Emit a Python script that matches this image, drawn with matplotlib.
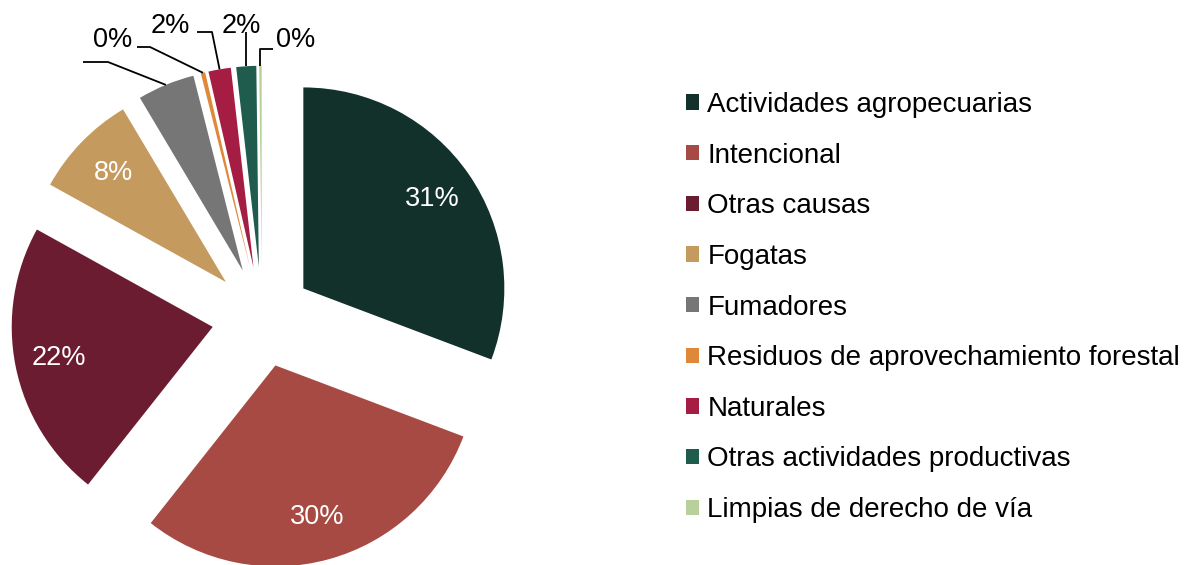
import matplotlib
matplotlib.use("Agg")
import matplotlib.pyplot as plt
import numpy as np

plt.rcParams["font.family"] = ["Liberation Sans", "DejaVu Sans"]

# data (percent of fires by cause)
causes = [
    "Actividades agropecuarias",
    "Intencional",
    "Otras causas",
    "Fogatas",
    "Fumadores",
    "Residuos de aprovechamiento forestal",
    "Naturales",
    "Otras actividades productivas",
    "Limpias de derecho de vía",
]
shares = [30.75, 29.9, 22.4, 8.4, 4.6, 0.35, 1.8, 1.6, 0.2]
colors = ["#12312b", "#a84a44", "#6b1c31", "#c49a5f", "#767676",
          "#e0883a", "#a51d42", "#1f5c4d", "#b9d09b"]

W, H = 1188, 565
R = 201
fig = plt.figure(figsize=(W / 100, H / 100), dpi=100)
ax = fig.add_axes([0, 0, 1, 1])

FS = 19.5


def pct(p):
    return f"{p:.0f}%" if p > 5 else ""


# matplotlib's explode offset is in data units, so scale by the radius
wedges, _, autotexts = ax.pie(
    shares, colors=colors, startangle=90, counterclock=False,
    explode=[0.25 * R] * len(shares), radius=R, center=(262, -317),
    autopct=pct, pctdistance=0.78, frame=True,
    wedgeprops=dict(linewidth=0),
    textprops=dict(color="white", fontsize=FS),
)
ax.set_xlim(0, W)
ax.set_ylim(-H, 0)
ax.set_aspect("equal")
ax.axis("off")


def anchor(w):
    mid = np.deg2rad((w.theta1 + w.theta2) / 2)
    cx, cy = w.center
    return cx + w.r * np.cos(mid), cy + w.r * np.sin(mid)


# leader lines for the thin slices (screen pixel coords for elbows / text)
callouts = [
    # wedge index, path points after anchor, text, text position
    (4, [(108, 62), (83, 62)], None, None),
    (5, [(150, 47), (137, 47)], "0%", (113, 40)),
    (6, [(212, 32), (197, 32)], "2%", (170, 26)),
    (7, [(None, 32)], "2%", (241, 26)),
    (8, [(None, 49), (273, 49)], "0%", (296, 40)),
]
for idx, pts, txt, tpos in callouts:
    ax0, ay0 = anchor(wedges[idx])
    xs, ys = [ax0], [ay0]
    for px, py in pts:
        xs.append(ax0 if px is None else px)
        ys.append(-py)
    ax.plot(xs, ys, color="black", lw=1.3, solid_capstyle="butt")
    if txt:
        ax.text(tpos[0], -tpos[1], txt, fontsize=FS, color="black",
                ha="center", va="center")

leg = ax.legend(
    wedges, causes, loc="upper left",
    bbox_to_anchor=(686 / W, 1 - 92 / H), bbox_transform=fig.transFigure,
    frameon=False, fontsize=20, handlelength=0.47, handleheight=0.47,
    handletextpad=0.3, labelspacing=0.887, borderpad=0, borderaxespad=0,
)

fig.savefig("out.png", dpi=100)
